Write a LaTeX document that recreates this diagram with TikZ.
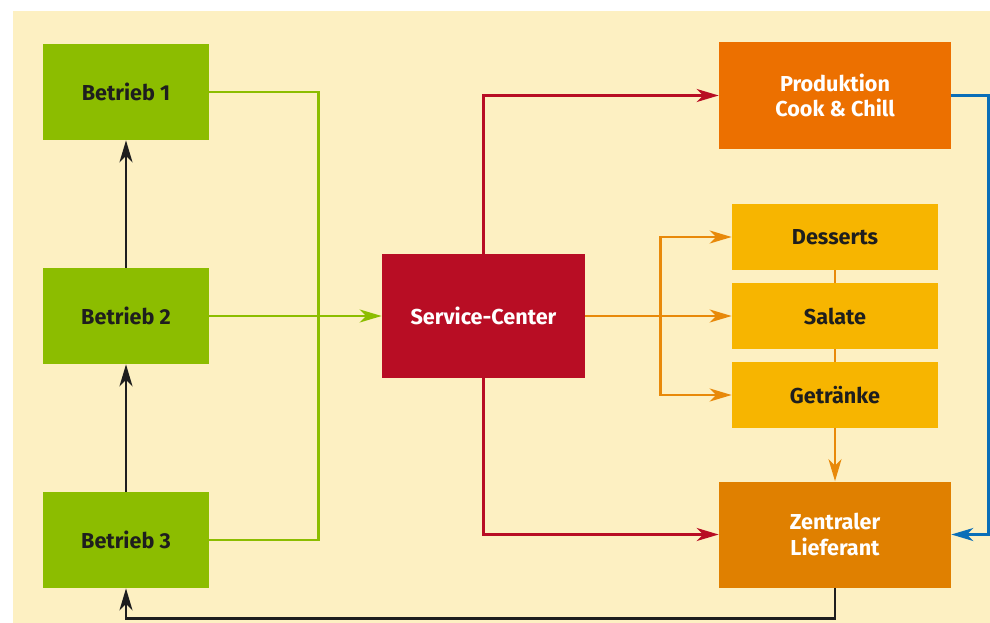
\documentclass[tikz,border=0pt]{standalone}
\usepackage{fontspec}
\setmainfont{Fira Sans}
\usetikzlibrary{arrows.meta}
\definecolor{bgyellow}{RGB}{253,240,194}
\definecolor{betriebgreen}{RGB}{140,189,0}
\definecolor{servicered}{RGB}{184,13,36}
\definecolor{prodorange}{RGB}{236,112,0}
\definecolor{compyellow}{RGB}{247,181,0}
\definecolor{lieforange}{RGB}{224,128,0}
\definecolor{lineorange}{RGB}{232,137,10}
\definecolor{lineblue}{RGB}{10,110,184}
\definecolor{darktext}{RGB}{30,30,30}
\tikzset{>={Stealth[length=4.4mm,width=2.6mm,inset=1.3mm]}}
\tikzset{
  box/.style={inner sep=0pt, align=center, font=\bfseries\fontsize{12.3}{14.5}\selectfont},
  betrieb/.style={box, fill=betriebgreen, text=darktext, minimum width=33.2mm, minimum height=19.2mm},
  service/.style={box, fill=servicered, text=white, minimum width=40.6mm, minimum height=24.8mm},
  bigbox/.style={box, text=white, minimum width=46.4mm, minimum height=21.2mm},
  comp/.style={box, fill=compyellow, text=darktext, minimum width=41.2mm, minimum height=13.2mm},
  conn/.style={line width=0.55mm}
}

\begin{document}
\begin{tikzpicture}[x=0.2mm, y=-0.2mm]
	\useasboundingbox (0,0) rectangle (990,623);
	\fill[bgyellow] (13,11) rectangle (990,623);

	% Betriebe
	\node[betrieb] (b1) at (126,92) {Betrieb 1};
	\node[betrieb] (b2) at (126,316) {Betrieb 2};
	\node[betrieb] (b3) at (126,540) {Betrieb 3};

	\node[service] (sc) at (483.5,316) {Service-Center};

	\node[bigbox, fill=prodorange] (prod) at (835,95.5) {Produktion\\Cook \& Chill};
	\node[bigbox, fill=lieforange] (zl) at (835,534.5) {Zentraler\\Lieferant};

	\node[comp] (des) at (835,237) {Desserts};
	\node[comp] (sal) at (835,316) {Salate};
	\node[comp] (get) at (835,395) {Getränke};

	% green
	\draw[conn, betriebgreen] (b1.east) -- ++(109,0) |- (b3.east);
	\draw[conn, betriebgreen][->] (b2.east) -- (sc.west);

	% black
	\draw[conn, darktext][->] (b2.north) -- (b1.south);
	\draw[conn, darktext][->] (b3.north) -- (b2.south);
	\draw[conn, darktext][->] (zl.south) -- ++(0,31) -| (b3.south);

	% red
	\draw[conn, servicered][->] (sc.north) |- (prod.west);
	\draw[conn, servicered][->] (sc.south) |- (zl.west);

	% orange
	\draw[conn, lineorange][->] (sc.east) -- (sal.west);
	\draw[conn, lineorange][->] (sc.east) ++(75,0) |- (des.west);
	\draw[conn, lineorange][->] (sc.east) ++(75,0) |- (get.west);
	\draw[conn, lineorange] (des.south) -- (sal.north);
	\draw[conn, lineorange] (sal.south) -- (get.north);
	\draw[conn, lineorange][->] (get.south) -- (zl.north);

	% blue
	\draw[conn, lineblue][->] (prod.east) -- ++(37,0) |- (zl.east);
\end{tikzpicture}
\end{document}
